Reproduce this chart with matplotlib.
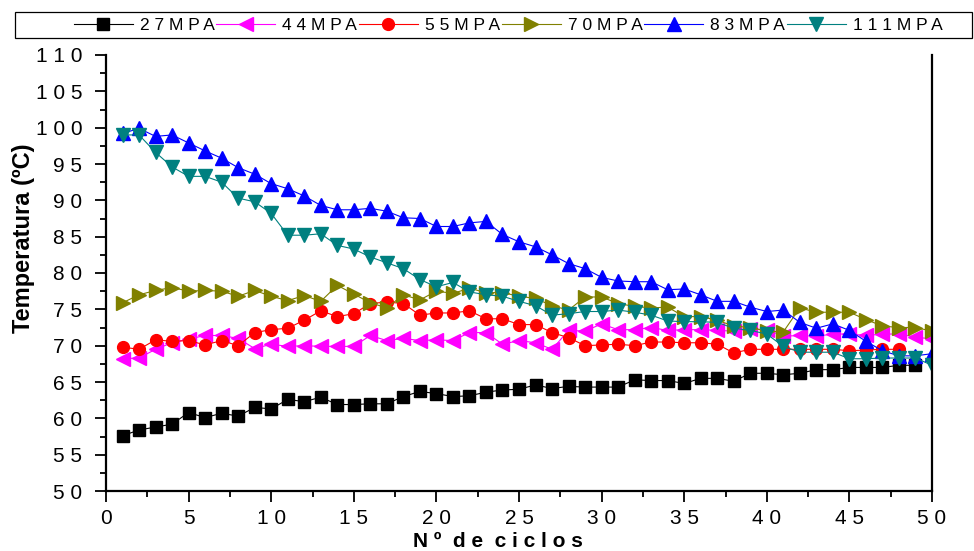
#!/usr/bin/env python3

""" Temperatura vs numero de ciclos para distintas presiones """

import numpy as np
import matplotlib
matplotlib.use('Agg')
import matplotlib.pyplot as plt
from matplotlib.patches import Rectangle
from matplotlib.ticker import MultipleLocator, FixedLocator

# Valores (ciclo 1..n)
t27 = [57.6, 58.4, 58.8, 59.2, 60.8, 60.1, 60.7, 60.3, 61.5, 61.3,
       62.6, 62.3, 62.9, 61.9, 61.9, 62.0, 62.0, 63.0, 63.7, 63.4,
       63.0, 63.1, 63.6, 63.9, 64.0, 64.6, 64.1, 64.4, 64.3, 64.3,
       64.3, 65.3, 65.2, 65.2, 64.8, 65.5, 65.5, 65.1, 66.2, 66.2,
       66.0, 66.2, 66.7, 66.7, 67.0, 67.0, 67.0, 67.3, 67.3]
t44 = [68.2, 68.3, 69.5, 70.4, 70.9, 71.4, 71.4, 71.0, 69.6, 70.2,
       69.9, 70.0, 69.9, 69.9, 69.9, 71.4, 70.7, 71.0, 70.7, 70.8,
       70.7, 71.8, 71.8, 70.2, 70.7, 70.4, 69.5, 72.1, 72.0, 73.0,
       72.2, 72.2, 72.5, 72.1, 72.2, 72.2, 72.1, 72.0, 72.3, 72.2,
       71.3, 71.4, 71.3, 71.6, 71.6, 71.4, 71.6, 71.6, 71.2, 70.9]
t55 = [69.8, 69.5, 70.8, 70.6, 70.7, 70.1, 70.7, 70.0, 71.8, 72.2,
       72.4, 73.5, 74.8, 74.0, 74.4, 75.8, 76.0, 75.8, 74.2, 74.5,
       74.5, 74.8, 73.7, 73.7, 72.9, 72.9, 71.8, 71.1, 70.0, 70.1,
       70.2, 70.0, 70.5, 70.5, 70.4, 70.4, 70.2, 69.0, 69.5, 69.5,
       69.5, 69.5, 69.5, 69.5, 69.3, 69.4, 69.5, 69.5]
t70 = [75.9, 77.0, 77.6, 78.0, 77.5, 77.6, 77.5, 76.8, 77.6, 76.8,
       76.2, 76.9, 76.1, 78.3, 77.1, 75.9, 75.2, 77.0, 76.3, 77.5,
       77.2, 77.9, 77.3, 77.3, 76.8, 76.5, 75.5, 74.9, 76.7, 76.7,
       75.8, 75.4, 75.2, 75.3, 74.0, 74.0, 73.5, 72.7, 72.5, 72.0,
       71.9, 75.2, 74.6, 74.6, 74.6, 73.6, 72.7, 72.5, 72.5, 72.0]
t83 = [99.2, 99.9, 98.8, 99.0, 97.9, 96.8, 95.8, 94.5, 93.6, 92.3,
       91.6, 90.6, 89.3, 88.7, 88.7, 88.9, 88.5, 87.6, 87.5, 86.4,
       86.4, 86.9, 87.1, 85.3, 84.3, 83.6, 82.5, 81.3, 80.6, 79.4,
       78.9, 78.8, 78.8, 77.7, 77.8, 77.0, 76.1, 76.1, 75.3, 74.7,
       74.9, 73.2, 72.4, 73.0, 72.1, 70.6, 69.3, 68.6, 68.6, 68.9]
t111 = [99.0, 99.0, 96.6, 94.6, 93.3, 93.3, 92.5, 90.3, 89.8, 88.2,
        85.2, 85.2, 85.4, 83.8, 83.3, 82.2, 81.4, 80.6, 79.1, 78.1,
        78.7, 77.4, 77.0, 76.8, 76.1, 75.5, 74.2, 74.4, 74.7, 74.7,
        74.9, 74.6, 74.2, 73.4, 73.3, 73.3, 73.2, 72.4, 72.1, 71.6,
        69.9, 69.1, 69.1, 69.1, 68.2, 68.2, 68.3, 68.3, 68.3, 67.3]

labels = ['27MPA', '44MPA', '55MPA', '70MPA', '83MPA', '111MPA']
series = [t27, t44, t55, t70, t83, t111]
colors = ['black', '#ff00ff', '#ff0000', '#808000', '#0000ff', '#008080']
markers = ['s', '<', 'o', '>', '^', 'v']
sizes = [8, 9.5, 8.5, 9.5, 9.5, 9.5]

xTicks = np.arange(0, 51, 5)
yTicks = np.arange(50, 111, 5)


def spaced(s):
    """ Imitate the wide letter spacing of the original figure """
    return ' '.join(str(s))


def plotTemperatures(out='out.png'):
    plt.rcParams['font.family'] = ['Liberation Sans', 'DejaVu Sans']
    fig = plt.figure(figsize=(9.74, 5.51), dpi=100)
    ax = fig.add_axes([106 / 974, 1 - 491 / 551, 826 / 974, 436 / 551])

    handles = []
    for vals, lab, col, mk, ms in zip(series, labels, colors, markers, sizes):
        x = np.arange(1, len(vals) + 1)
        h, = ax.plot(x, vals, color=col, lw=0.8, marker=mk, ms=ms,
                     mec=col, mfc=col, label=spaced(lab))
        handles.append(h)

    ax.set_xlim(0, 50)
    ax.set_ylim(50, 110)
    ax.xaxis.set_major_locator(FixedLocator(xTicks))
    ax.yaxis.set_major_locator(FixedLocator(yTicks))
    ax.set_xticklabels([spaced(v) for v in xTicks])
    ax.set_yticklabels([spaced(v) for v in yTicks])
    ax.xaxis.set_minor_locator(MultipleLocator(2.5))
    ax.yaxis.set_minor_locator(MultipleLocator(2.5))
    ax.tick_params(which='both', direction='out', width=1.3,
                   top=False, right=False, labelsize=15)
    ax.tick_params(which='major', length=8)
    ax.tick_params(which='minor', length=4.5)
    ax.tick_params(axis='y', which='major', pad=9)
    ax.tick_params(axis='x', which='major', pad=5)

    ax.spines['top'].set_visible(False)
    for side in ['left', 'bottom', 'right']:
        ax.spines[side].set_linewidth(1.6)

    ax.set_xlabel('N º  d e  c i c l o s', fontsize=15, fontweight='bold')
    ax.xaxis.set_label_coords(0.474, -0.095)
    ax.set_ylabel('Temperatura (ºC)', fontsize=17, fontweight='bold')
    ax.yaxis.set_label_coords(-0.086, 0.58)

    # Legend box across the top of the figure
    fig.patches.append(Rectangle((15 / 974, 1 - 38 / 551), 957 / 974, 26 / 551,
                                 transform=fig.transFigure, fill=False,
                                 edgecolor='black', lw=0.9))
    fig.legend(handles=handles, ncol=6, loc='center',
               bbox_to_anchor=(508 / 974, 1 - 25 / 551), frameon=False,
               fontsize=12.5, handlelength=3.4, handletextpad=0.4,
               columnspacing=0.1, borderpad=0, borderaxespad=0)

    fig.savefig(out, dpi=100)


if __name__ == '__main__':
    plotTemperatures()
